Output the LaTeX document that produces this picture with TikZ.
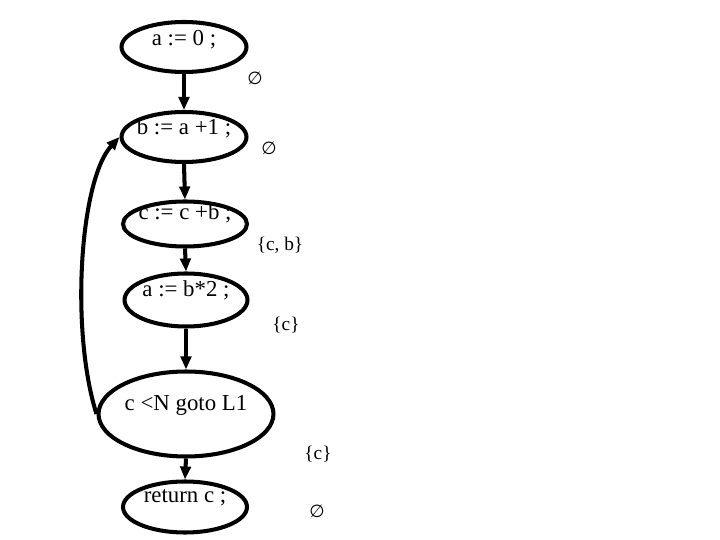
\documentclass[tikz,border=0pt]{standalone}
\usepackage{fontspec}
\setmainfont{Liberation Serif}
\newfontfamily\symfont{DejaVu Sans}
\usetikzlibrary{arrows.meta,shapes.geometric}
\tikzset{
  stmt/.style={draw=black,ellipse,line width=2.3pt,inner sep=0pt},
  stmttext/.style={font=\fontsize{13}{15}\selectfont,inner sep=0pt},
  arr/.style={-{Triangle[length=2.6mm,width=2.1mm]},line width=2.3pt,black},
  live/.style={font=\fontsize{11}{13}\selectfont,inner sep=0pt}
}
\newcommand{\nothing}{{\symfont\fontsize{10}{12}\selectfont ∅}}

\begin{document}
\begin{tikzpicture}[x=0.02cm,y=-0.02cm]
  \useasboundingbox (0,0) rectangle (720,540);

  \node[stmt,minimum width=2.5cm,minimum height=1.0cm] (s1) at (184,47) {};
  \node[stmt,minimum width=2.5cm,minimum height=1.0cm] (s2) at (184,137) {};
  \node[stmt,minimum width=2.48cm,minimum height=0.9cm] (s3) at (185,224) {};
  \node[stmt,minimum width=2.46cm,minimum height=1.06cm] (s4) at (186,300) {};
  \node[stmt,minimum width=3.5cm,minimum height=1.7cm] (s5) at (186,414) {};
  \node[stmt,minimum width=2.48cm,minimum height=1.02cm] (s6) at (185,507) {};

  \node[stmttext] (t1) at (184,40) {a := 0 ;};
  \node[stmttext] (t2) at (184,128) {b := a +1 ;};
  \node[stmttext] (t3) at (185,213) {c := c +b ;};
  \node[stmttext] (t4) at (186,290) {a := b*2 ;};
  \node[stmttext] (t5) at (186,405) {c <N goto L1};
  \node[stmttext] (t6) at (185,498) {return c ;};

  \draw[arr] (s1.south) -- (s2.north);
  \draw[arr] (s2.south) -- (s3.north);
  \draw[arr] (s3.south) -- (s4.north);
  \draw[arr] (s4.south) -- (s5.north);
  \draw[arr] (s5.south) -- (s6.north);
  \draw[arr] (s5.west) .. controls (70,330) and (80,180) .. (s2.west);

  \node[live] (l12) at (255,78) {\nothing};
  \node[live] (l23) at (269,148) {\nothing};
  \node[live] (l34) at (280,245) {\{c, b\}};
  \node[live] (l45) at (286,325) {\{c\}};
  \node[live] (l56) at (318,454) {\{c\}};
  \node[live] (l6) at (317,511) {\nothing};
\end{tikzpicture}
\end{document}
